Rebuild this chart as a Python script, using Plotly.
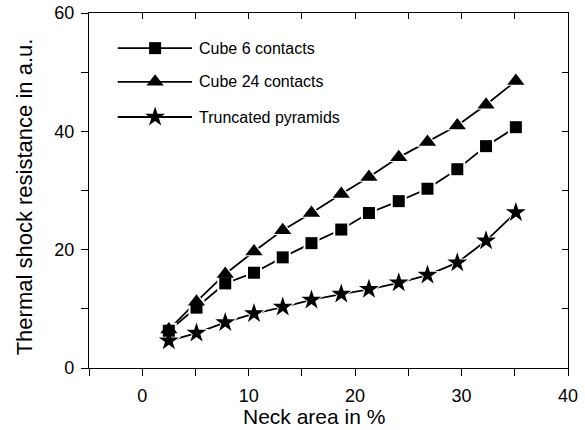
import plotly.graph_objects as go

# Neck area (%) and thermal shock resistance (a.u.) for three contact geometries
neck_area = [2.5, 5.1, 7.8, 10.5, 13.2, 15.9, 18.7, 21.3, 24.1, 26.8, 29.6, 32.3, 35.1]
cube_6 = [6.3, 10.2, 14.3, 16.1, 18.7, 21.1, 23.4, 26.2, 28.2, 30.3, 33.6, 37.5, 40.7]
cube_24 = [6.5, 11.2, 15.9, 19.7, 23.3, 26.2, 29.4, 32.3, 35.6, 38.2, 41.0, 44.5, 48.5]
pyramids = [4.6, 5.9, 7.7, 9.2, 10.3, 11.5, 12.5, 13.3, 14.4, 15.7, 17.8, 21.5, 26.3]

series_names = ["Cube 6 contacts", "Cube 24 contacts", "Truncated pyramids"]
series_values = [cube_6, cube_24, pyramids]
symbols = ["square", "triangle-up", "star"]
sizes = [12, 15, 15]

FONT = "Liberation Sans, Arial, Helvetica, sans-serif"
X_RANGE = [-5, 40]
Y_RANGE = [0, 60]

fig = go.Figure()

# Layer 1: connecting lines
for name, vals in zip(series_names, series_values):
    fig.add_trace(go.Scatter(
        x=neck_area, y=vals, mode="lines", name=name,
        line=dict(color="black", width=1.8),
        showlegend=False, hoverinfo="skip",
    ))
# Layer 2: white halos that open a small gap between line and symbol
for vals, sym, sz in zip(series_values, symbols, sizes):
    fig.add_trace(go.Scatter(
        x=neck_area, y=vals, mode="markers",
        marker=dict(symbol=sym, size=sz + 4, color="white"),
        showlegend=False, hoverinfo="skip",
    ))
# Layer 3: solid symbols
for name, vals, sym, sz in zip(series_names, series_values, symbols, sizes):
    fig.add_trace(go.Scatter(
        x=neck_area, y=vals, mode="markers", name=name,
        marker=dict(symbol=sym, size=sz, color="black"),
        showlegend=False,
    ))

# Empty trace so the top/right tick axes get drawn
fig.add_trace(go.Scatter(x=[], y=[], xaxis="x2", yaxis="y2", showlegend=False))

# Legend keys drawn on a hidden unit-square axis pair
key_x = [0.06, 0.138, 0.215]
key_rows = [0.901, 0.806, 0.707]
for name, sym, sz, ky in zip(series_names, symbols, sizes, key_rows):
    fig.add_trace(go.Scatter(
        x=key_x, y=[ky] * 3, xaxis="x3", yaxis="y3",
        mode="lines", line=dict(color="black", width=1.8),
        showlegend=False, hoverinfo="skip",
    ))
    fig.add_trace(go.Scatter(
        x=[key_x[1]], y=[ky], xaxis="x3", yaxis="y3",
        mode="markers", marker=dict(symbol=sym, size=sz, color="black"),
        showlegend=False, hoverinfo="skip",
    ))
    fig.add_annotation(
        x=0.226, y=ky, xref="x3", yref="y3", text=name, showarrow=False,
        xanchor="left", yanchor="middle",
        font=dict(family=FONT, size=16, color="black"),
    )

# Axis titles
fig.add_annotation(
    x=0.47, y=-0.138, xref="paper", yref="paper", text="Neck area in %",
    showarrow=False, xanchor="center", yanchor="middle",
    font=dict(family=FONT, size=21, color="black"),
)
fig.add_annotation(
    x=-0.134, y=0.483, xref="paper", yref="paper",
    text="Thermal shock resistance in a.u.", textangle=-90,
    showarrow=False, xanchor="center", yanchor="middle",
    font=dict(family=FONT, size=22, color="black"),
)

axis_common = dict(showgrid=False, zeroline=False, linecolor="black",
                   linewidth=1.3, tickcolor="black", tickwidth=1.2,
                   automargin=False,
                   tickfont=dict(family=FONT, size=18, color="black"))

fig.update_layout(
    width=585, height=430,
    margin=dict(l=89, r=17, t=13, b=62),
    paper_bgcolor="white", plot_bgcolor="white",
    xaxis=dict(range=X_RANGE, tickmode="linear", tick0=0, dtick=10,
               ticks="outside", ticklen=7, showline=True, mirror=True,
               ticklabelstandoff=4,
               minor=dict(dtick=5, tick0=0, ticks="outside", ticklen=7,
                          tickcolor="black", tickwidth=1.2),
               **axis_common),
    yaxis=dict(range=Y_RANGE, tickmode="linear", tick0=0, dtick=20,
               ticks="outside", ticklen=7, showline=True, mirror=True,
               ticklabelstandoff=3,
               minor=dict(dtick=10, tick0=0, ticks="outside", ticklen=7,
                          tickcolor="black", tickwidth=1.2),
               **axis_common),
    xaxis2=dict(overlaying="x", side="top", range=X_RANGE, tickmode="linear",
                tick0=0, dtick=5, ticks="inside", ticklen=6,
                showticklabels=False, showline=False, showgrid=False,
                zeroline=False, tickcolor="black", tickwidth=1.2),
    yaxis2=dict(overlaying="y", side="right", range=Y_RANGE, tickmode="linear",
                tick0=0, dtick=10, ticks="inside", ticklen=6,
                showticklabels=False, showline=False, showgrid=False,
                zeroline=False, tickcolor="black", tickwidth=1.2),
    xaxis3=dict(overlaying="x", range=[0, 1], visible=False),
    yaxis3=dict(overlaying="y", range=[0, 1], visible=False),
    showlegend=False,
)

fig.write_html("out.html")
